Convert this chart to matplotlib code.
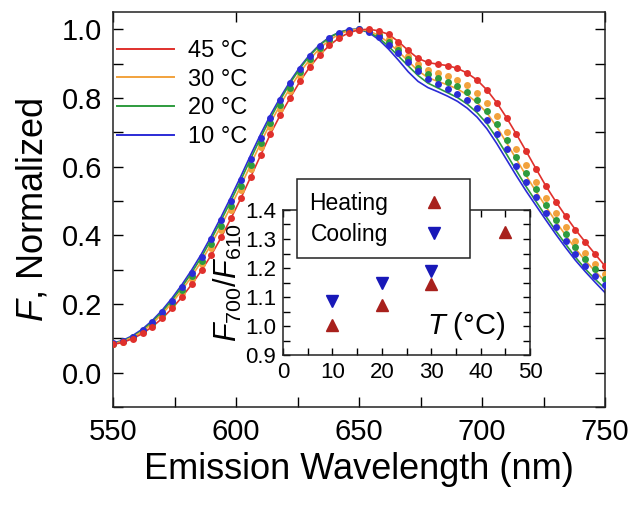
import matplotlib
matplotlib.use("Agg")
import matplotlib.pyplot as plt
from matplotlib.ticker import MultipleLocator, FormatStrFormatter

plt.rcParams["font.family"] = ["Liberation Sans", "DejaVu Sans"]
plt.rcParams["mathtext.fontset"] = "custom"
plt.rcParams["mathtext.rm"] = "Liberation Sans"
plt.rcParams["mathtext.it"] = "Liberation Sans:italic"

# Emission wavelength grid (nm)
wavelength = list(range(550, 751, 4))

# Normalized emission spectra recorded while heating (lines)
heat_10 = [0.086, 0.094, 0.108, 0.127, 0.152, 0.182, 0.217, 0.256, 0.299, 0.346,
           0.398, 0.454, 0.512, 0.572, 0.634, 0.694, 0.750, 0.801, 0.848, 0.890,
           0.926, 0.955, 0.977, 0.991, 0.999, 1.000, 0.990, 0.970, 0.942, 0.910,
           0.876, 0.848, 0.830, 0.818, 0.805, 0.790, 0.770, 0.744, 0.710, 0.667,
           0.620, 0.573, 0.528, 0.486, 0.444, 0.403, 0.364, 0.327, 0.294, 0.263,
           0.233]
heat_20 = [0.085, 0.092, 0.105, 0.123, 0.148, 0.177, 0.211, 0.249, 0.291, 0.337,
           0.389, 0.444, 0.501, 0.561, 0.623, 0.684, 0.741, 0.794, 0.843, 0.886,
           0.923, 0.953, 0.976, 0.991, 0.998, 1.000, 0.992, 0.975, 0.950, 0.922,
           0.893, 0.865, 0.843, 0.829, 0.815, 0.801, 0.782, 0.757, 0.725, 0.683,
           0.636, 0.588, 0.541, 0.498, 0.455, 0.413, 0.374, 0.336, 0.302, 0.272,
           0.245]
heat_30 = [0.084, 0.091, 0.103, 0.120, 0.143, 0.171, 0.203, 0.240, 0.280, 0.325,
           0.375, 0.428, 0.485, 0.544, 0.606, 0.668, 0.727, 0.780, 0.829, 0.874,
           0.912, 0.944, 0.968, 0.986, 0.996, 1.000, 0.995, 0.982, 0.961, 0.935,
           0.907, 0.879, 0.859, 0.848, 0.838, 0.826, 0.809, 0.786, 0.756, 0.716,
           0.669, 0.621, 0.573, 0.527, 0.483, 0.440, 0.400, 0.361, 0.326, 0.295,
           0.266]
heat_45 = [0.082, 0.088, 0.099, 0.114, 0.134, 0.158, 0.187, 0.220, 0.257, 0.298,
           0.343, 0.394, 0.450, 0.508, 0.570, 0.633, 0.695, 0.750, 0.800, 0.848,
           0.890, 0.925, 0.953, 0.975, 0.990, 0.998, 1.000, 0.995, 0.985, 0.964,
           0.938, 0.915, 0.903, 0.898, 0.894, 0.886, 0.872, 0.852, 0.823, 0.786,
           0.742, 0.694, 0.644, 0.593, 0.543, 0.498, 0.456, 0.416, 0.380, 0.345,
           0.310]

# Normalized emission spectra recorded while cooling (dots)
cool_10 = [0.085, 0.092, 0.105, 0.123, 0.147, 0.176, 0.210, 0.248, 0.290, 0.336,
           0.388, 0.443, 0.500, 0.560, 0.622, 0.683, 0.740, 0.793, 0.842, 0.885,
           0.922, 0.952, 0.975, 0.990, 0.998, 1.000, 0.993, 0.978, 0.955, 0.930,
           0.904, 0.877, 0.855, 0.839, 0.826, 0.812, 0.794, 0.770, 0.737, 0.696,
           0.650, 0.602, 0.555, 0.510, 0.466, 0.423, 0.384, 0.345, 0.311, 0.282,
           0.256]
cool_20 = [0.084, 0.091, 0.103, 0.120, 0.143, 0.171, 0.203, 0.240, 0.280, 0.325,
           0.375, 0.428, 0.485, 0.544, 0.606, 0.668, 0.727, 0.780, 0.829, 0.874,
           0.912, 0.944, 0.968, 0.986, 0.996, 1.000, 0.995, 0.983, 0.964, 0.940,
           0.914, 0.888, 0.869, 0.857, 0.846, 0.834, 0.817, 0.794, 0.763, 0.723,
           0.677, 0.629, 0.581, 0.534, 0.489, 0.445, 0.405, 0.366, 0.332, 0.301,
           0.272]
cool_30 = [0.083, 0.090, 0.102, 0.118, 0.140, 0.166, 0.197, 0.233, 0.272, 0.315,
           0.363, 0.416, 0.473, 0.531, 0.593, 0.656, 0.715, 0.769, 0.819, 0.865,
           0.904, 0.937, 0.963, 0.982, 0.994, 0.999, 0.997, 0.987, 0.972, 0.949,
           0.923, 0.898, 0.881, 0.871, 0.863, 0.853, 0.837, 0.815, 0.784, 0.746,
           0.700, 0.652, 0.604, 0.556, 0.508, 0.464, 0.423, 0.384, 0.349, 0.317,
           0.286]

legend_labels = ["45 °C", "30 °C", "20 °C", "10 °C"]

# Ratio F700/F610 versus temperature
heating_T = [10, 20, 30, 45]
heating_ratio = [1.005, 1.074, 1.144, 1.324]
cooling_T = [10, 20, 30]
cooling_ratio = [1.086, 1.150, 1.190]

col_45 = "#E0302C"
col_30 = "#F2A23C"
col_20 = "#2E9B3E"
col_10 = "#2B2BD6"
col_heat = "#A8201C"
col_cool = "#1818B8"

W, H = 632, 505
fig = plt.figure(figsize=(W / 100, H / 100), dpi=100)
ax = fig.add_axes([113 / W, 1 - 407 / H, (605 - 113) / W, (407 - 12) / H])

lw = 1.2
l10, = ax.plot(wavelength, heat_10, color=col_10, lw=lw, zorder=2)
l20, = ax.plot(wavelength, heat_20, color=col_20, lw=lw, zorder=2)
l30, = ax.plot(wavelength, heat_30, color=col_30, lw=lw, zorder=2)
l45, = ax.plot(wavelength, heat_45, color=col_45, lw=lw, zorder=2)

ms = 5.0
ax.plot(wavelength, cool_30, ls="none", marker="o", ms=ms, color=col_30, mec="none", zorder=3)
ax.plot(wavelength, cool_20, ls="none", marker="o", ms=ms, color=col_20, mec="none", zorder=3)
ax.plot(wavelength, cool_10, ls="none", marker="o", ms=ms, color=col_10, mec="none", zorder=3)
ax.plot(wavelength, heat_45, ls="none", marker="o", ms=ms, color=col_45, mec="none", zorder=3)

ax.set_xlim(550, 750)
ax.set_ylim(-0.1, 1.05)
ax.xaxis.set_major_locator(MultipleLocator(50))
ax.xaxis.set_minor_locator(MultipleLocator(25))
ax.yaxis.set_major_locator(MultipleLocator(0.2))
ax.yaxis.set_minor_locator(MultipleLocator(0.1))
ax.yaxis.set_major_formatter(FormatStrFormatter("%.1f"))
ax.tick_params(which="both", direction="in", length=7, width=1.0,
               left=True, right=True, bottom=True, top=False, labelsize=21, pad=8)
ax.tick_params(which="major", top=True)
for s in ax.spines.values():
    s.set_linewidth(1.1)
    s.set_color("#222222")

ax.set_xlabel("Emission Wavelength (nm)", fontsize=26, labelpad=4)
ax.set_ylabel("$F$, Normalized", fontsize=26, labelpad=8)

leg = ax.legend([l45, l30, l20, l10], legend_labels, loc="upper left",
                bbox_to_anchor=(117 / W, 1 - 40 / H), bbox_transform=fig.transFigure,
                frameon=False, fontsize=17, handlelength=2.4, handletextpad=0.6,
                labelspacing=0.28, borderpad=0, borderaxespad=0)
for h in leg.get_lines():
    h.set_linewidth(1.4)

# Inset: intensity ratio versus temperature
axi = fig.add_axes([283 / W, 1 - 355 / H, (530 - 283) / W, (355 - 210) / H])
axi.set_facecolor("white")
hm, = axi.plot(heating_T, heating_ratio, ls="none", marker="^", ms=8.5, color=col_heat)
cm, = axi.plot(cooling_T, cooling_ratio, ls="none", marker="v", ms=8.5, color=col_cool)
axi.set_xlim(0, 50)
axi.set_ylim(0.9, 1.4)
axi.xaxis.set_major_locator(MultipleLocator(10))
axi.xaxis.set_minor_locator(MultipleLocator(5))
axi.yaxis.set_major_locator(MultipleLocator(0.1))
axi.yaxis.set_minor_locator(MultipleLocator(0.05))
axi.yaxis.set_major_formatter(FormatStrFormatter("%.1f"))
axi.tick_params(which="both", direction="in", length=5, width=1.0,
                left=True, right=True, bottom=True, top=True, labelsize=16, pad=5)
for s in axi.spines.values():
    s.set_linewidth(1.1)
    s.set_color("#222222")
axi.set_ylabel("$F_{700}/F_{610}$", fontsize=22, labelpad=1)
axi.text(0.74, 0.2, "$T$ (°C)", transform=axi.transAxes, fontsize=21,
         ha="center", va="center")

ileg = axi.legend([hm, cm], ["Heating", "Cooling"], loc="upper left",
                  bbox_to_anchor=(297 / W, 1 - 179 / H), bbox_transform=fig.transFigure,
                  fontsize=16.5, markerfirst=False, handlelength=2.0, handletextpad=1.0,
                  borderpad=0.55, labelspacing=0.35, borderaxespad=0,
                  fancybox=False, edgecolor="#222222", framealpha=1)
ileg.get_frame().set_linewidth(1.1)

fig.savefig("out.png", dpi=100)
